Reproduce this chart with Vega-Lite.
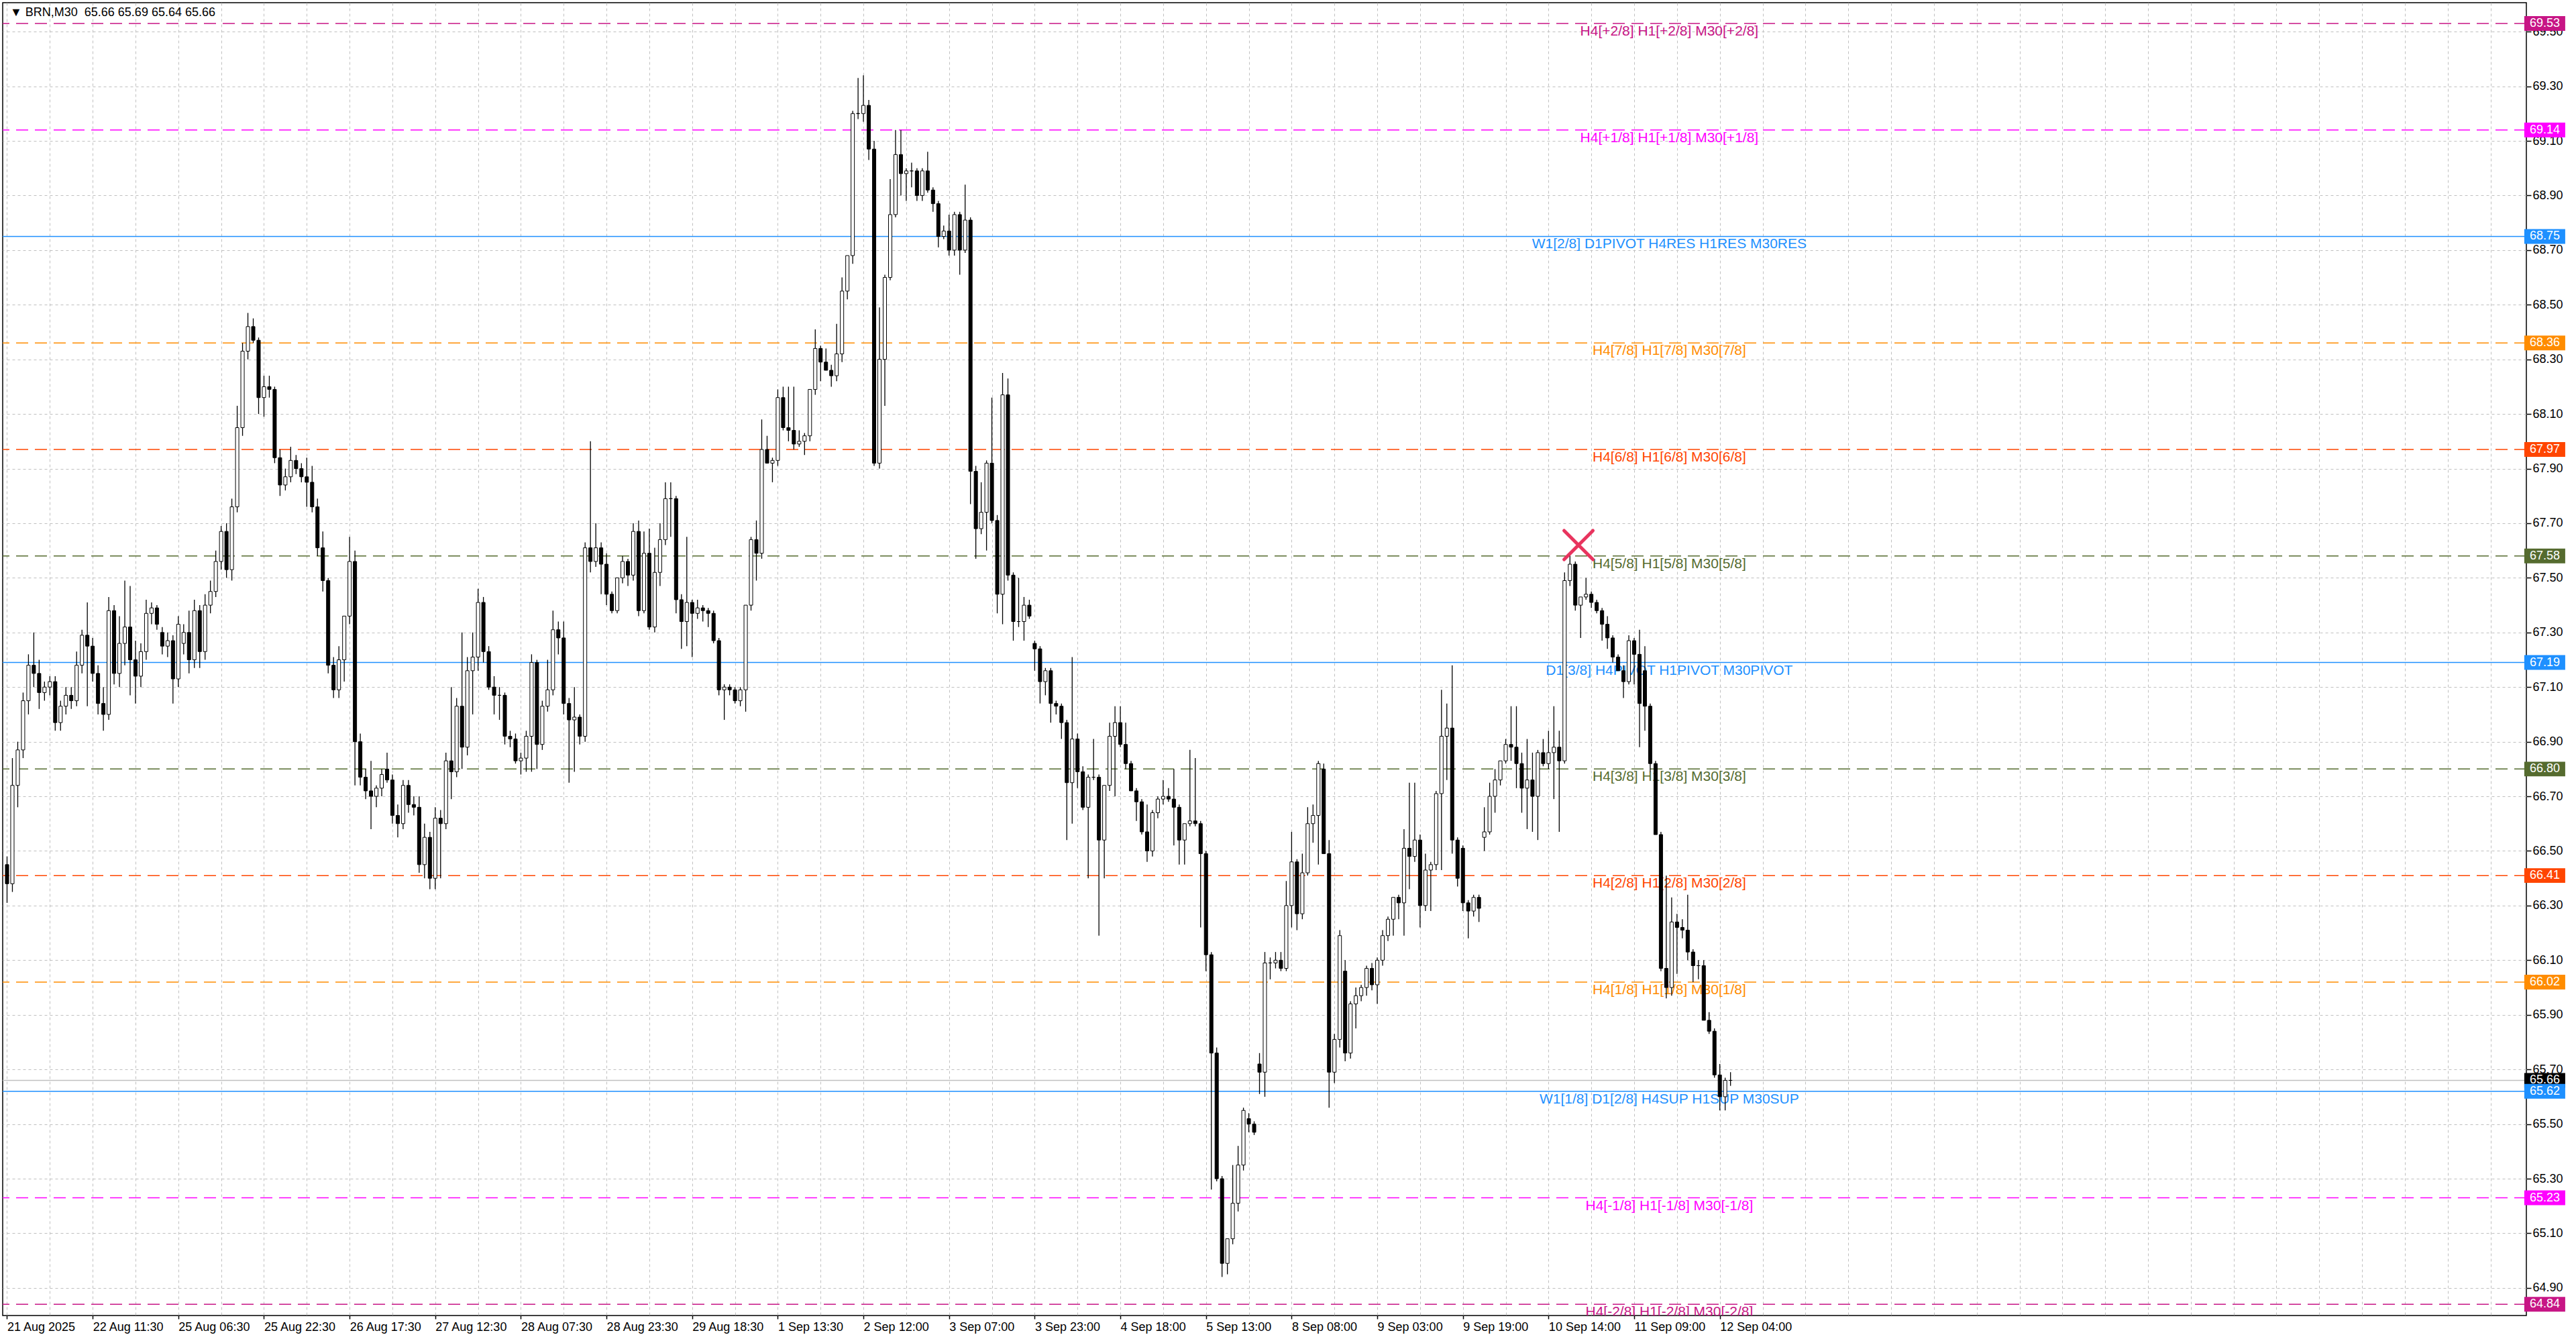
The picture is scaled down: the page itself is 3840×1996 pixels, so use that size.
{
"$schema": "https://vega.github.io/schema/vega-lite/v6.json",
"width": 3762, "height": 1957,
"autosize": {"type": "none"},
"padding": {"left": 4, "top": 4, "right": 74, "bottom": 35},
"background": "white",
"config": {"font": "Liberation Sans", "view": {"stroke": "black", "strokeWidth": 1.5},
 "axis": {"domain": false, "grid": true, "gridColor": "#c0c0c0", "gridDash": [4,4], "gridWidth": 1, "tickWidth": 1.5, "labelFont": "Liberation Sans", "labelFontSize": 18, "labelColor": "black", "labelOverlap": false, "labelFlush": false, "labelBound": false},
 "axisX": {"tickSize": 5, "labelAlign": "left", "labelBaseline": "top", "labelPadding": 3},
 "axisY": {"tickSize": 7, "labelPadding": 2, "labelAlign": "left", "labelBaseline": "middle", "tickColor": "black"}},
"datasets": {
"bars": [
{"i":0,"o":66.45,"h":66.48,"l":66.31,"c":66.38},{"i":1,"o":66.38,"h":66.84,"l":66.35,"c":66.74},{"i":2,"o":66.74,"h":66.90,"l":66.66,"c":66.87},{"i":3,"o":66.87,"h":67.08,"l":66.84,"c":67.05},{"i":4,"o":67.05,"h":67.22,"l":67.00,"c":67.18},{"i":5,"o":67.18,"h":67.30,"l":67.10,"c":67.15},{"i":6,"o":67.15,"h":67.20,"l":67.02,"c":67.08},{"i":7,"o":67.08,"h":67.12,"l":67.05,"c":67.10},{"i":8,"o":67.10,"h":67.14,"l":67.07,"c":67.12},{"i":9,"o":67.12,"h":67.14,"l":66.94,"c":66.97},
{"i":10,"o":66.97,"h":67.05,"l":66.94,"c":67.03},{"i":11,"o":67.03,"h":67.10,"l":67.00,"c":67.07},{"i":12,"o":67.07,"h":67.10,"l":67.02,"c":67.05},{"i":13,"o":67.05,"h":67.23,"l":67.03,"c":67.18},{"i":14,"o":67.18,"h":67.31,"l":67.15,"c":67.29},{"i":15,"o":67.29,"h":67.41,"l":67.03,"c":67.25},{"i":16,"o":67.25,"h":67.28,"l":67.12,"c":67.15},{"i":17,"o":67.15,"h":67.18,"l":67.00,"c":67.04},{"i":18,"o":67.04,"h":67.10,"l":66.94,"c":67.00},{"i":19,"o":67.00,"h":67.43,"l":66.98,"c":67.38},
{"i":20,"o":67.38,"h":67.40,"l":67.11,"c":67.15},{"i":21,"o":67.15,"h":67.36,"l":67.10,"c":67.26},{"i":22,"o":67.26,"h":67.49,"l":67.18,"c":67.32},{"i":23,"o":67.32,"h":67.47,"l":67.07,"c":67.20},{"i":24,"o":67.20,"h":67.27,"l":67.04,"c":67.14},{"i":25,"o":67.14,"h":67.26,"l":67.10,"c":67.23},{"i":26,"o":67.23,"h":67.42,"l":67.20,"c":67.37},{"i":27,"o":67.37,"h":67.41,"l":67.33,"c":67.39},{"i":28,"o":67.39,"h":67.40,"l":67.31,"c":67.33},{"i":29,"o":67.30,"h":67.32,"l":67.22,"c":67.25},
{"i":30,"o":67.25,"h":67.30,"l":67.21,"c":67.27},{"i":31,"o":67.27,"h":67.29,"l":67.04,"c":67.13},{"i":32,"o":67.13,"h":67.36,"l":67.10,"c":67.33},{"i":33,"o":67.26,"h":67.33,"l":67.22,"c":67.30},{"i":34,"o":67.30,"h":67.38,"l":67.15,"c":67.20},{"i":35,"o":67.20,"h":67.42,"l":67.17,"c":67.38},{"i":36,"o":67.38,"h":67.40,"l":67.17,"c":67.23},{"i":37,"o":67.23,"h":67.44,"l":67.20,"c":67.40},{"i":38,"o":67.40,"h":67.49,"l":67.37,"c":67.45},{"i":39,"o":67.45,"h":67.60,"l":67.43,"c":67.56},
{"i":40,"o":67.56,"h":67.69,"l":67.53,"c":67.67},{"i":41,"o":67.67,"h":67.70,"l":67.50,"c":67.53},{"i":42,"o":67.53,"h":67.79,"l":67.49,"c":67.76},{"i":43,"o":67.76,"h":68.13,"l":67.74,"c":68.05},{"i":44,"o":68.05,"h":68.36,"l":68.02,"c":68.33},{"i":45,"o":68.33,"h":68.47,"l":68.30,"c":68.42},{"i":46,"o":68.42,"h":68.45,"l":68.36,"c":68.37},{"i":47,"o":68.37,"h":68.38,"l":68.10,"c":68.16},{"i":48,"o":68.16,"h":68.24,"l":68.09,"c":68.20},{"i":49,"o":68.20,"h":68.24,"l":68.16,"c":68.19},
{"i":50,"o":68.19,"h":68.20,"l":67.92,"c":67.94},{"i":51,"o":67.94,"h":67.97,"l":67.80,"c":67.84},{"i":52,"o":67.84,"h":67.90,"l":67.82,"c":67.87},{"i":53,"o":67.87,"h":67.98,"l":67.85,"c":67.93},{"i":54,"o":67.93,"h":67.95,"l":67.88,"c":67.90},{"i":55,"o":67.90,"h":67.92,"l":67.85,"c":67.87},{"i":56,"o":67.87,"h":67.94,"l":67.76,"c":67.85},{"i":57,"o":67.85,"h":67.91,"l":67.74,"c":67.76},{"i":58,"o":67.76,"h":67.79,"l":67.58,"c":67.61},{"i":59,"o":67.61,"h":67.67,"l":67.45,"c":67.49},
{"i":60,"o":67.49,"h":67.50,"l":67.15,"c":67.18},{"i":61,"o":67.18,"h":67.21,"l":67.06,"c":67.09},{"i":62,"o":67.09,"h":67.25,"l":67.06,"c":67.20},{"i":63,"o":67.20,"h":67.36,"l":67.12,"c":67.36},{"i":64,"o":67.36,"h":67.65,"l":67.33,"c":67.56},{"i":65,"o":67.56,"h":67.60,"l":66.74,"c":66.90},{"i":66,"o":66.90,"h":66.93,"l":66.74,"c":66.77},{"i":67,"o":66.77,"h":66.80,"l":66.69,"c":66.72},{"i":68,"o":66.72,"h":66.83,"l":66.58,"c":66.70},{"i":69,"o":66.70,"h":66.74,"l":66.66,"c":66.73},
{"i":70,"o":66.73,"h":66.80,"l":66.70,"c":66.78},{"i":71,"o":66.80,"h":66.86,"l":66.75,"c":66.76},{"i":72,"o":66.76,"h":66.78,"l":66.60,"c":66.63},{"i":73,"o":66.63,"h":66.67,"l":66.55,"c":66.60},{"i":74,"o":66.60,"h":66.76,"l":66.58,"c":66.74},{"i":75,"o":66.74,"h":66.76,"l":66.64,"c":66.67},{"i":76,"o":66.67,"h":66.70,"l":66.63,"c":66.66},{"i":77,"o":66.66,"h":66.70,"l":66.42,"c":66.45},{"i":78,"o":66.45,"h":66.60,"l":66.40,"c":66.55},{"i":79,"o":66.55,"h":66.57,"l":66.36,"c":66.40},
{"i":80,"o":66.40,"h":66.66,"l":66.36,"c":66.62},{"i":81,"o":66.62,"h":66.65,"l":66.40,"c":66.60},{"i":82,"o":66.60,"h":66.86,"l":66.58,"c":66.83},{"i":83,"o":66.83,"h":67.10,"l":66.69,"c":66.79},{"i":84,"o":66.79,"h":67.06,"l":66.77,"c":67.03},{"i":85,"o":67.03,"h":67.30,"l":66.80,"c":66.88},{"i":86,"o":66.88,"h":67.21,"l":66.85,"c":67.16},{"i":87,"o":67.16,"h":67.30,"l":67.00,"c":67.21},{"i":88,"o":67.21,"h":67.46,"l":67.16,"c":67.41},{"i":89,"o":67.41,"h":67.43,"l":67.19,"c":67.23},
{"i":90,"o":67.23,"h":67.25,"l":67.09,"c":67.10},{"i":91,"o":67.10,"h":67.14,"l":67.00,"c":67.07},{"i":92,"o":67.07,"h":67.10,"l":66.98,"c":67.07},{"i":93,"o":67.07,"h":67.08,"l":66.89,"c":66.92},{"i":94,"o":66.92,"h":66.94,"l":66.88,"c":66.91},{"i":95,"o":66.91,"h":66.93,"l":66.82,"c":66.83},{"i":96,"o":66.83,"h":66.86,"l":66.78,"c":66.84},{"i":97,"o":66.84,"h":66.94,"l":66.79,"c":66.92},{"i":98,"o":66.92,"h":67.22,"l":66.79,"c":67.19},{"i":99,"o":67.19,"h":67.20,"l":66.80,"c":66.89},
{"i":100,"o":66.89,"h":67.05,"l":66.87,"c":67.03},{"i":101,"o":67.03,"h":67.20,"l":67.01,"c":67.09},{"i":102,"o":67.09,"h":67.38,"l":67.07,"c":67.31},{"i":103,"o":67.31,"h":67.34,"l":67.22,"c":67.28},{"i":104,"o":67.28,"h":67.34,"l":67.00,"c":67.04},{"i":105,"o":67.04,"h":67.06,"l":66.75,"c":66.98},{"i":106,"o":66.98,"h":67.10,"l":66.79,"c":66.99},{"i":107,"o":66.99,"h":67.00,"l":66.89,"c":66.92},{"i":108,"o":66.92,"h":67.63,"l":66.90,"c":67.61},{"i":109,"o":67.61,"h":68.00,"l":67.52,"c":67.56},
{"i":110,"o":67.56,"h":67.70,"l":67.54,"c":67.61},{"i":111,"o":67.61,"h":67.63,"l":67.44,"c":67.55},{"i":112,"o":67.55,"h":67.59,"l":67.40,"c":67.44},{"i":113,"o":67.44,"h":67.45,"l":67.37,"c":67.38},{"i":114,"o":67.38,"h":67.50,"l":67.37,"c":67.50},{"i":115,"o":67.50,"h":67.58,"l":67.48,"c":67.56},{"i":116,"o":67.56,"h":67.57,"l":67.47,"c":67.51},{"i":117,"o":67.51,"h":67.70,"l":67.49,"c":67.67},{"i":118,"o":67.67,"h":67.71,"l":67.36,"c":67.38},{"i":119,"o":67.38,"h":67.67,"l":67.37,"c":67.59},
{"i":120,"o":67.59,"h":67.68,"l":67.31,"c":67.32},{"i":121,"o":67.32,"h":67.61,"l":67.30,"c":67.52},{"i":122,"o":67.52,"h":67.70,"l":67.47,"c":67.64},{"i":123,"o":67.64,"h":67.85,"l":67.62,"c":67.79},{"i":124,"o":67.79,"h":67.85,"l":67.65,"c":67.79},{"i":125,"o":67.79,"h":67.80,"l":67.37,"c":67.42},{"i":126,"o":67.42,"h":67.44,"l":67.24,"c":67.34},{"i":127,"o":67.34,"h":67.65,"l":67.25,"c":67.41},{"i":128,"o":67.41,"h":67.42,"l":67.21,"c":67.37},{"i":129,"o":67.37,"h":67.42,"l":67.35,"c":67.39},
{"i":130,"o":67.39,"h":67.40,"l":67.34,"c":67.38},{"i":131,"o":67.38,"h":67.39,"l":67.32,"c":67.37},{"i":132,"o":67.37,"h":67.38,"l":67.26,"c":67.27},{"i":133,"o":67.27,"h":67.28,"l":67.07,"c":67.09},{"i":134,"o":67.09,"h":67.11,"l":66.98,"c":67.10},{"i":135,"o":67.10,"h":67.11,"l":67.07,"c":67.09},{"i":136,"o":67.09,"h":67.10,"l":67.04,"c":67.05},{"i":137,"o":67.05,"h":67.10,"l":67.03,"c":67.09},{"i":138,"o":67.09,"h":67.40,"l":67.01,"c":67.40},{"i":139,"o":67.40,"h":67.65,"l":67.38,"c":67.64},
{"i":140,"o":67.64,"h":67.71,"l":67.49,"c":67.59},{"i":141,"o":67.59,"h":68.08,"l":67.57,"c":67.97},{"i":142,"o":67.97,"h":68.02,"l":67.92,"c":67.92},{"i":143,"o":67.92,"h":67.94,"l":67.85,"c":67.93},{"i":144,"o":67.93,"h":68.19,"l":67.91,"c":68.16},{"i":145,"o":68.16,"h":68.20,"l":68.04,"c":68.05},{"i":146,"o":68.05,"h":68.20,"l":68.00,"c":68.04},{"i":147,"o":68.04,"h":68.20,"l":67.97,"c":67.99},{"i":148,"o":67.99,"h":68.04,"l":67.98,"c":68.00},{"i":149,"o":68.00,"h":68.03,"l":67.95,"c":68.02},
{"i":150,"o":68.02,"h":68.19,"l":68.00,"c":68.19},{"i":151,"o":68.19,"h":68.41,"l":68.17,"c":68.34},{"i":152,"o":68.34,"h":68.35,"l":68.22,"c":68.29},{"i":153,"o":68.29,"h":68.34,"l":68.26,"c":68.26},{"i":154,"o":68.26,"h":68.28,"l":68.20,"c":68.24},{"i":155,"o":68.24,"h":68.43,"l":68.22,"c":68.32},{"i":156,"o":68.32,"h":68.60,"l":68.29,"c":68.55},{"i":157,"o":68.55,"h":68.68,"l":68.52,"c":68.68},{"i":158,"o":68.68,"h":69.21,"l":68.65,"c":69.20},{"i":159,"o":69.20,"h":69.33,"l":69.18,"c":69.20},
{"i":160,"o":69.20,"h":69.34,"l":69.17,"c":69.23},{"i":161,"o":69.23,"h":69.25,"l":69.03,"c":69.07},{"i":162,"o":69.07,"h":69.10,"l":67.91,"c":67.92},{"i":163,"o":67.92,"h":68.49,"l":67.90,"c":68.30},{"i":164,"o":68.30,"h":68.61,"l":68.13,"c":68.60},{"i":165,"o":68.60,"h":68.96,"l":68.59,"c":68.83},{"i":166,"o":68.83,"h":69.14,"l":68.82,"c":69.05},{"i":167,"o":69.05,"h":69.14,"l":68.90,"c":68.98},{"i":168,"o":68.98,"h":69.00,"l":68.88,"c":68.99},{"i":169,"o":68.99,"h":69.02,"l":68.93,"c":68.99},
{"i":170,"o":68.99,"h":69.00,"l":68.88,"c":68.90},{"i":171,"o":68.90,"h":69.00,"l":68.88,"c":68.99},{"i":172,"o":68.99,"h":69.06,"l":68.91,"c":68.92},{"i":173,"o":68.92,"h":68.93,"l":68.84,"c":68.87},{"i":174,"o":68.87,"h":68.88,"l":68.71,"c":68.75},{"i":175,"o":68.75,"h":68.79,"l":68.74,"c":68.77},{"i":176,"o":68.77,"h":68.83,"l":68.68,"c":68.70},{"i":177,"o":68.70,"h":68.84,"l":68.68,"c":68.83},{"i":178,"o":68.83,"h":68.84,"l":68.61,"c":68.70},{"i":179,"o":68.70,"h":68.94,"l":68.69,"c":68.81},
{"i":180,"o":68.81,"h":68.82,"l":67.77,"c":67.89},{"i":181,"o":67.89,"h":67.91,"l":67.57,"c":67.68},{"i":182,"o":67.68,"h":67.85,"l":67.66,"c":67.74},{"i":183,"o":67.74,"h":67.93,"l":67.60,"c":67.92},{"i":184,"o":67.92,"h":68.16,"l":67.70,"c":67.71},{"i":185,"o":67.71,"h":67.73,"l":67.37,"c":67.44},{"i":186,"o":67.44,"h":68.25,"l":67.33,"c":68.17},{"i":187,"o":68.17,"h":68.23,"l":67.49,"c":67.51},{"i":188,"o":67.51,"h":67.52,"l":67.27,"c":67.34},{"i":189,"o":67.34,"h":67.50,"l":67.32,"c":67.34},
{"i":190,"o":67.34,"h":67.43,"l":67.27,"c":67.40},{"i":191,"o":67.40,"h":67.42,"l":67.35,"c":67.36},{"i":192,"o":67.26,"h":67.27,"l":67.16,"c":67.24},{"i":193,"o":67.24,"h":67.25,"l":67.04,"c":67.12},{"i":194,"o":67.12,"h":67.17,"l":67.07,"c":67.16},{"i":195,"o":67.16,"h":67.17,"l":66.97,"c":67.04},{"i":196,"o":67.04,"h":67.05,"l":67.00,"c":67.03},{"i":197,"o":67.03,"h":67.04,"l":66.91,"c":66.97},{"i":198,"o":66.97,"h":66.98,"l":66.54,"c":66.75},{"i":199,"o":66.75,"h":67.21,"l":66.60,"c":66.91},
{"i":200,"o":66.91,"h":66.93,"l":66.73,"c":66.79},{"i":201,"o":66.79,"h":66.81,"l":66.65,"c":66.66},{"i":202,"o":66.66,"h":66.78,"l":66.40,"c":66.77},{"i":203,"o":66.77,"h":66.91,"l":66.76,"c":66.77},{"i":204,"o":66.77,"h":66.78,"l":66.19,"c":66.54},{"i":205,"o":66.54,"h":66.74,"l":66.40,"c":66.74},{"i":206,"o":66.74,"h":66.97,"l":66.72,"c":66.92},{"i":207,"o":66.92,"h":67.03,"l":66.70,"c":66.97},{"i":208,"o":66.97,"h":67.03,"l":66.88,"c":66.89},{"i":209,"o":66.89,"h":66.97,"l":66.80,"c":66.82},
{"i":210,"o":66.82,"h":66.83,"l":66.72,"c":66.72},{"i":211,"o":66.72,"h":66.73,"l":66.61,"c":66.68},{"i":212,"o":66.68,"h":66.69,"l":66.56,"c":66.57},{"i":213,"o":66.57,"h":66.67,"l":66.46,"c":66.50},{"i":214,"o":66.50,"h":66.65,"l":66.48,"c":66.64},{"i":215,"o":66.64,"h":66.70,"l":66.62,"c":66.69},{"i":216,"o":66.69,"h":66.76,"l":66.67,"c":66.70},{"i":217,"o":66.70,"h":66.73,"l":66.68,"c":66.69},{"i":218,"o":66.69,"h":66.80,"l":66.52,"c":66.66},{"i":219,"o":66.66,"h":66.67,"l":66.45,"c":66.54},
{"i":220,"o":66.54,"h":66.60,"l":66.45,"c":66.60},{"i":221,"o":66.60,"h":66.87,"l":66.59,"c":66.61},{"i":222,"o":66.61,"h":66.84,"l":66.59,"c":66.60},{"i":223,"o":66.60,"h":66.61,"l":66.22,"c":66.49},{"i":224,"o":66.49,"h":66.50,"l":66.06,"c":66.12},{"i":225,"o":66.12,"h":66.13,"l":65.26,"c":65.76},{"i":226,"o":65.76,"h":65.78,"l":65.29,"c":65.30},{"i":227,"o":65.30,"h":65.31,"l":64.94,"c":64.99},{"i":228,"o":64.99,"h":65.08,"l":64.95,"c":65.08},{"i":229,"o":65.08,"h":65.35,"l":65.06,"c":65.21},
{"i":230,"o":65.21,"h":65.42,"l":65.18,"c":65.35},{"i":231,"o":65.35,"h":65.56,"l":65.33,"c":65.55},{"i":232,"o":65.52,"h":65.54,"l":65.47,"c":65.50},{"i":233,"o":65.50,"h":65.51,"l":65.46,"c":65.47},{"i":234,"o":65.72,"h":65.76,"l":65.61,"c":65.69},{"i":235,"o":65.69,"h":66.13,"l":65.60,"c":66.09},{"i":236,"o":66.09,"h":66.11,"l":66.03,"c":66.09},{"i":237,"o":66.09,"h":66.13,"l":66.07,"c":66.10},{"i":238,"o":66.10,"h":66.13,"l":66.06,"c":66.07},{"i":239,"o":66.07,"h":66.39,"l":66.06,"c":66.30},
{"i":240,"o":66.30,"h":66.57,"l":66.22,"c":66.46},{"i":241,"o":66.46,"h":66.47,"l":66.21,"c":66.27},{"i":242,"o":66.27,"h":66.49,"l":66.25,"c":66.42},{"i":243,"o":66.42,"h":66.66,"l":66.41,"c":66.60},{"i":244,"o":66.60,"h":66.67,"l":66.53,"c":66.63},{"i":245,"o":66.63,"h":66.83,"l":66.45,"c":66.82},{"i":246,"o":66.80,"h":66.82,"l":66.49,"c":66.49},{"i":247,"o":66.49,"h":66.54,"l":65.56,"c":65.69},{"i":248,"o":65.69,"h":65.83,"l":65.65,"c":65.81},{"i":249,"o":65.81,"h":66.21,"l":65.78,"c":66.19},
{"i":250,"o":66.06,"h":66.10,"l":65.73,"c":65.76},{"i":251,"o":65.76,"h":65.95,"l":65.74,"c":65.94},{"i":252,"o":65.94,"h":66.00,"l":65.85,"c":65.97},{"i":253,"o":65.97,"h":66.01,"l":65.95,"c":66.00},{"i":254,"o":66.00,"h":66.08,"l":65.97,"c":66.07},{"i":255,"o":66.07,"h":66.09,"l":65.99,"c":66.01},{"i":256,"o":66.01,"h":66.11,"l":65.94,"c":66.10},{"i":257,"o":66.10,"h":66.21,"l":66.08,"c":66.19},{"i":258,"o":66.19,"h":66.26,"l":66.17,"c":66.25},{"i":259,"o":66.25,"h":66.33,"l":66.19,"c":66.33},
{"i":260,"o":66.33,"h":66.34,"l":66.25,"c":66.31},{"i":261,"o":66.31,"h":66.58,"l":66.19,"c":66.51},{"i":262,"o":66.51,"h":66.75,"l":66.36,"c":66.48},{"i":263,"o":66.48,"h":66.75,"l":66.46,"c":66.54},{"i":264,"o":66.54,"h":66.56,"l":66.22,"c":66.30},{"i":265,"o":66.30,"h":66.49,"l":66.28,"c":66.43},{"i":266,"o":66.43,"h":66.46,"l":66.28,"c":66.45},{"i":267,"o":66.45,"h":66.72,"l":66.43,"c":66.71},{"i":268,"o":66.71,"h":67.09,"l":66.43,"c":66.92},{"i":269,"o":66.92,"h":67.04,"l":66.76,"c":66.95},
{"i":270,"o":66.95,"h":67.18,"l":66.49,"c":66.54},{"i":271,"o":66.54,"h":66.55,"l":66.37,"c":66.40},{"i":272,"o":66.51,"h":66.52,"l":66.28,"c":66.31},{"i":273,"o":66.31,"h":66.32,"l":66.18,"c":66.28},{"i":274,"o":66.28,"h":66.34,"l":66.26,"c":66.33},{"i":275,"o":66.33,"h":66.34,"l":66.24,"c":66.29},{"i":276,"o":66.55,"h":66.66,"l":66.50,"c":66.57},{"i":277,"o":66.57,"h":66.75,"l":66.56,"c":66.70},{"i":278,"o":66.70,"h":66.80,"l":66.64,"c":66.76},{"i":279,"o":66.76,"h":66.83,"l":66.74,"c":66.83},
{"i":280,"o":66.83,"h":66.91,"l":66.82,"c":66.89},{"i":281,"o":66.89,"h":67.03,"l":66.83,"c":66.88},{"i":282,"o":66.88,"h":67.03,"l":66.73,"c":66.82},{"i":283,"o":66.82,"h":66.86,"l":66.64,"c":66.73},{"i":284,"o":66.73,"h":66.91,"l":66.58,"c":66.76},{"i":285,"o":66.76,"h":66.86,"l":66.57,"c":66.70},{"i":286,"o":66.70,"h":66.87,"l":66.54,"c":66.86},{"i":287,"o":66.86,"h":66.91,"l":66.81,"c":66.82},{"i":288,"o":66.82,"h":66.94,"l":66.80,"c":66.86},{"i":289,"o":66.86,"h":67.03,"l":66.69,"c":66.88},
{"i":290,"o":66.88,"h":66.94,"l":66.57,"c":66.83},{"i":291,"o":66.83,"h":67.52,"l":66.82,"c":67.49},{"i":292,"o":67.49,"h":67.59,"l":67.47,"c":67.55},{"i":293,"o":67.55,"h":67.56,"l":67.38,"c":67.40},{"i":294,"o":67.40,"h":67.43,"l":67.28,"c":67.43},{"i":295,"o":67.43,"h":67.50,"l":67.42,"c":67.44},{"i":296,"o":67.44,"h":67.45,"l":67.39,"c":67.41},{"i":297,"o":67.41,"h":67.42,"l":67.37,"c":67.38},{"i":298,"o":67.38,"h":67.39,"l":67.27,"c":67.33},{"i":299,"o":67.33,"h":67.36,"l":67.24,"c":67.28},
{"i":300,"o":67.28,"h":67.29,"l":67.19,"c":67.21},{"i":301,"o":67.21,"h":67.22,"l":67.16,"c":67.16},{"i":302,"o":67.16,"h":67.18,"l":67.06,"c":67.12},{"i":303,"o":67.12,"h":67.29,"l":67.11,"c":67.27},{"i":304,"o":67.27,"h":67.28,"l":67.11,"c":67.22},{"i":305,"o":67.22,"h":67.31,"l":66.88,"c":67.04},{"i":306,"o":67.16,"h":67.25,"l":66.94,"c":67.03},{"i":307,"o":67.03,"h":67.04,"l":66.79,"c":66.82},{"i":308,"o":66.82,"h":66.83,"l":66.56,"c":66.56},{"i":309,"o":66.56,"h":66.57,"l":66.06,"c":66.07},
{"i":310,"o":66.07,"h":66.41,"l":65.96,"c":66.00},{"i":311,"o":66.00,"h":66.33,"l":65.97,"c":66.24},{"i":312,"o":66.24,"h":66.27,"l":66.05,"c":66.22},{"i":313,"o":66.22,"h":66.25,"l":66.18,"c":66.21},{"i":314,"o":66.21,"h":66.34,"l":66.10,"c":66.13},{"i":315,"o":66.13,"h":66.14,"l":66.02,"c":66.08},{"i":316,"o":66.08,"h":66.10,"l":66.03,"c":66.08},{"i":317,"o":66.08,"h":66.10,"l":65.88,"c":65.88},{"i":318,"o":65.88,"h":65.91,"l":65.83,"c":65.84},{"i":319,"o":65.84,"h":65.85,"l":65.67,"c":65.68},
{"i":320,"o":65.68,"h":65.72,"l":65.55,"c":65.60},{"i":321,"o":65.60,"h":65.67,"l":65.55,"c":65.66},{"i":322,"o":65.66,"h":65.69,"l":65.64,"c":65.66}
],
"levels": [
{"p":69.53,"grp":"+2/8","kind":"murrey","label":"H4[+2/8] H1[+2/8] M30[+2/8]"},
{"p":69.14,"grp":"+1/8","kind":"murrey","label":"H4[+1/8] H1[+1/8] M30[+1/8]"},
{"p":68.75,"grp":"pivot","kind":"pivot","label":"W1[2/8] D1PIVOT H4RES H1RES M30RES"},
{"p":68.36,"grp":"7/8","kind":"murrey","label":"H4[7/8] H1[7/8] M30[7/8]"},
{"p":67.97,"grp":"6/8","kind":"murrey","label":"H4[6/8] H1[6/8] M30[6/8]"},
{"p":67.58,"grp":"5/8","kind":"murrey","label":"H4[5/8] H1[5/8] M30[5/8]"},
{"p":67.19,"grp":"pivot","kind":"pivot","label":"D1[3/8] H4PIVOT H1PIVOT M30PIVOT"},
{"p":66.80,"grp":"3/8","kind":"murrey","label":"H4[3/8] H1[3/8] M30[3/8]"},
{"p":66.41,"grp":"2/8","kind":"murrey","label":"H4[2/8] H1[2/8] M30[2/8]"},
{"p":66.02,"grp":"1/8","kind":"murrey","label":"H4[1/8] H1[1/8] M30[1/8]"},
{"p":65.62,"grp":"pivot","kind":"pivot","label":"W1[1/8] D1[2/8] H4SUP H1SUP M30SUP"},
{"p":65.23,"grp":"-1/8","kind":"murrey","label":"H4[-1/8] H1[-1/8] M30[-1/8]"},
{"p":64.84,"grp":"-2/8","kind":"murrey","label":"H4[-2/8] H1[-2/8] M30[-2/8]"}
],
"last": [{"p":65.66}],
"marker": [{"i":293.6,"p":67.62}]
},
"layer": [
{"data":{"name":"bars"},"mark":{"type":"rule","color":"black","strokeWidth":1.3,"opacity":0},
 "encoding":{
  "x":{"field":"i","type":"quantitative","scale":{"type":"linear","domain":[-0.1875,470.0625],"nice":false,"zero":false},
   "axis":{"orient":"bottom","title":null,
    "values":[0,8,16,24,32,40,48,56,64,72,80,88,96,104,112,120,128,136,144,152,160,168,176,184,192,200,208,216,224,232,240,248,256,264,272,280,288,296,304,312,320,328,336,344,352,360,368,376,384,392,400,408,416,424,432,440,448,456,464],
    "tickColor":{"condition":{"test":"datum.value % 16 == 0 && datum.value <= 320","value":"black"},"value":"rgba(0,0,0,0)"},
    "labelExpr":"datum.value % 16 == 0 && datum.value <= 320 ? ['21 Aug 2025','22 Aug 11:30','25 Aug 06:30','25 Aug 22:30','26 Aug 17:30','27 Aug 12:30','28 Aug 07:30','28 Aug 23:30','29 Aug 18:30','1 Sep 13:30','2 Sep 12:00','3 Sep 07:00','3 Sep 23:00','4 Sep 18:00','5 Sep 13:00','8 Sep 08:00','9 Sep 03:00','9 Sep 19:00','10 Sep 14:00','11 Sep 09:00','12 Sep 04:00'][datum.value / 16] : ''"}},
  "y":{"field":"l","type":"quantitative","scale":{"type":"linear","domain":[64.799,69.606],"nice":false,"zero":false},
   "axis":{"orient":"right","title":null,"format":".2f",
    "values":[64.9,65.1,65.3,65.5,65.7,65.9,66.1,66.3,66.5,66.7,66.9,67.1,67.3,67.5,67.7,67.9,68.1,68.3,68.5,68.7,68.9,69.1,69.3,69.5]}},
  "y2":{"field":"h"}}},
{"data":{"name":"levels"},"mark":{"type":"rule","strokeWidth":1.5},
 "encoding":{
  "y":{"field":"p","type":"quantitative","scale":{"type":"linear","domain":[64.799,69.606],"nice":false,"zero":false},
   "axis":{"orient":"right","title":null,"format":".2f",
    "values":[64.9,65.1,65.3,65.5,65.7,65.9,66.1,66.3,66.5,66.7,66.9,67.1,67.3,67.5,67.7,67.9,68.1,68.3,68.5,68.7,68.9,69.1,69.3,69.5]}},
  "color":{"field":"grp","type":"nominal","scale":{"domain":["+2/8","+1/8","pivot","7/8","6/8","5/8","3/8","2/8","1/8","-1/8","-2/8"],"range":["#C71585","#FF00FF","#1E90FF","#FF8C00","#FF4500","#556B2F","#556B2F","#FF4500","#FF8C00","#FF00FF","#C71585"]},"legend":null},
  "strokeDash":{"field":"kind","type":"nominal","scale":{"domain":["murrey","pivot"],"range":[[18,10],[1,0]]},"legend":null}}},
{"data":{"name":"last"},"mark":{"type":"rule","color":"#c0c0c0","strokeWidth":1.5},
 "encoding":{"y":{"field":"p","type":"quantitative","scale":{"type":"linear","domain":[64.799,69.606],"nice":false,"zero":false},
   "axis":{"orient":"right","title":null,"format":".2f",
    "values":[64.9,65.1,65.3,65.5,65.7,65.9,66.1,66.3,66.5,66.7,66.9,67.1,67.3,67.5,67.7,67.9,68.1,68.3,68.5,68.7,68.9,69.1,69.3,69.5]}}}},
{"data":{"name":"levels"},"mark":{"type":"text","align":"center","baseline":"top","dy":1,"fontSize":21,"font":"Liberation Sans","clip":true},
 "encoding":{
  "x":{"datum":310.56,"type":"quantitative","scale":{"type":"linear","domain":[-0.1875,470.0625],"nice":false,"zero":false},
   "axis":{"orient":"bottom","title":null,
    "values":[0,8,16,24,32,40,48,56,64,72,80,88,96,104,112,120,128,136,144,152,160,168,176,184,192,200,208,216,224,232,240,248,256,264,272,280,288,296,304,312,320,328,336,344,352,360,368,376,384,392,400,408,416,424,432,440,448,456,464],
    "tickColor":{"condition":{"test":"datum.value % 16 == 0 && datum.value <= 320","value":"black"},"value":"rgba(0,0,0,0)"},
    "labelExpr":"datum.value % 16 == 0 && datum.value <= 320 ? ['21 Aug 2025','22 Aug 11:30','25 Aug 06:30','25 Aug 22:30','26 Aug 17:30','27 Aug 12:30','28 Aug 07:30','28 Aug 23:30','29 Aug 18:30','1 Sep 13:30','2 Sep 12:00','3 Sep 07:00','3 Sep 23:00','4 Sep 18:00','5 Sep 13:00','8 Sep 08:00','9 Sep 03:00','9 Sep 19:00','10 Sep 14:00','11 Sep 09:00','12 Sep 04:00'][datum.value / 16] : ''"}},
  "y":{"field":"p","type":"quantitative","scale":{"type":"linear","domain":[64.799,69.606],"nice":false,"zero":false},
   "axis":{"orient":"right","title":null,"format":".2f",
    "values":[64.9,65.1,65.3,65.5,65.7,65.9,66.1,66.3,66.5,66.7,66.9,67.1,67.3,67.5,67.7,67.9,68.1,68.3,68.5,68.7,68.9,69.1,69.3,69.5]}},
  "text":{"field":"label"},
  "color":{"field":"grp","type":"nominal","scale":{"domain":["+2/8","+1/8","pivot","7/8","6/8","5/8","3/8","2/8","1/8","-1/8","-2/8"],"range":["#C71585","#FF00FF","#1E90FF","#FF8C00","#FF4500","#556B2F","#556B2F","#FF4500","#FF8C00","#FF00FF","#C71585"]},"legend":null}}},
{"data":{"name":"bars"},"mark":{"type":"rule","color":"black","strokeWidth":1.3},
 "encoding":{
  "x":{"field":"i","type":"quantitative","scale":{"type":"linear","domain":[-0.1875,470.0625],"nice":false,"zero":false},
   "axis":{"orient":"bottom","title":null,
    "values":[0,8,16,24,32,40,48,56,64,72,80,88,96,104,112,120,128,136,144,152,160,168,176,184,192,200,208,216,224,232,240,248,256,264,272,280,288,296,304,312,320,328,336,344,352,360,368,376,384,392,400,408,416,424,432,440,448,456,464],
    "tickColor":{"condition":{"test":"datum.value % 16 == 0 && datum.value <= 320","value":"black"},"value":"rgba(0,0,0,0)"},
    "labelExpr":"datum.value % 16 == 0 && datum.value <= 320 ? ['21 Aug 2025','22 Aug 11:30','25 Aug 06:30','25 Aug 22:30','26 Aug 17:30','27 Aug 12:30','28 Aug 07:30','28 Aug 23:30','29 Aug 18:30','1 Sep 13:30','2 Sep 12:00','3 Sep 07:00','3 Sep 23:00','4 Sep 18:00','5 Sep 13:00','8 Sep 08:00','9 Sep 03:00','9 Sep 19:00','10 Sep 14:00','11 Sep 09:00','12 Sep 04:00'][datum.value / 16] : ''"}},
  "y":{"field":"l","type":"quantitative","scale":{"type":"linear","domain":[64.799,69.606],"nice":false,"zero":false},
   "axis":{"orient":"right","title":null,"format":".2f",
    "values":[64.9,65.1,65.3,65.5,65.7,65.9,66.1,66.3,66.5,66.7,66.9,67.1,67.3,67.5,67.7,67.9,68.1,68.3,68.5,68.7,68.9,69.1,69.3,69.5]}},
  "y2":{"field":"h"}}},
{"data":{"name":"bars"},"mark":{"type":"bar","width":5,"stroke":"black","strokeWidth":1},
 "encoding":{
  "x":{"field":"i","type":"quantitative","scale":{"type":"linear","domain":[-0.1875,470.0625],"nice":false,"zero":false},
   "axis":{"orient":"bottom","title":null,
    "values":[0,8,16,24,32,40,48,56,64,72,80,88,96,104,112,120,128,136,144,152,160,168,176,184,192,200,208,216,224,232,240,248,256,264,272,280,288,296,304,312,320,328,336,344,352,360,368,376,384,392,400,408,416,424,432,440,448,456,464],
    "tickColor":{"condition":{"test":"datum.value % 16 == 0 && datum.value <= 320","value":"black"},"value":"rgba(0,0,0,0)"},
    "labelExpr":"datum.value % 16 == 0 && datum.value <= 320 ? ['21 Aug 2025','22 Aug 11:30','25 Aug 06:30','25 Aug 22:30','26 Aug 17:30','27 Aug 12:30','28 Aug 07:30','28 Aug 23:30','29 Aug 18:30','1 Sep 13:30','2 Sep 12:00','3 Sep 07:00','3 Sep 23:00','4 Sep 18:00','5 Sep 13:00','8 Sep 08:00','9 Sep 03:00','9 Sep 19:00','10 Sep 14:00','11 Sep 09:00','12 Sep 04:00'][datum.value / 16] : ''"}},
  "y":{"field":"o","type":"quantitative","scale":{"type":"linear","domain":[64.799,69.606],"nice":false,"zero":false},
   "axis":{"orient":"right","title":null,"format":".2f",
    "values":[64.9,65.1,65.3,65.5,65.7,65.9,66.1,66.3,66.5,66.7,66.9,67.1,67.3,67.5,67.7,67.9,68.1,68.3,68.5,68.7,68.9,69.1,69.3,69.5]}},
  "y2":{"field":"c"},
  "fill":{"condition":{"test":"datum.c >= datum.o","value":"white"},"value":"black"}}},
{"data":{"name":"marker"},"mark":{"type":"point","shape":"M-1,-1L1,1M-1,1L1,-1","size":1850,"filled":false,"stroke":"#E8345E","strokeWidth":5,"strokeCap":"round","opacity":1},
 "encoding":{
  "x":{"field":"i","type":"quantitative","scale":{"type":"linear","domain":[-0.1875,470.0625],"nice":false,"zero":false},
   "axis":{"orient":"bottom","title":null,
    "values":[0,8,16,24,32,40,48,56,64,72,80,88,96,104,112,120,128,136,144,152,160,168,176,184,192,200,208,216,224,232,240,248,256,264,272,280,288,296,304,312,320,328,336,344,352,360,368,376,384,392,400,408,416,424,432,440,448,456,464],
    "tickColor":{"condition":{"test":"datum.value % 16 == 0 && datum.value <= 320","value":"black"},"value":"rgba(0,0,0,0)"},
    "labelExpr":"datum.value % 16 == 0 && datum.value <= 320 ? ['21 Aug 2025','22 Aug 11:30','25 Aug 06:30','25 Aug 22:30','26 Aug 17:30','27 Aug 12:30','28 Aug 07:30','28 Aug 23:30','29 Aug 18:30','1 Sep 13:30','2 Sep 12:00','3 Sep 07:00','3 Sep 23:00','4 Sep 18:00','5 Sep 13:00','8 Sep 08:00','9 Sep 03:00','9 Sep 19:00','10 Sep 14:00','11 Sep 09:00','12 Sep 04:00'][datum.value / 16] : ''"}},
  "y":{"field":"p","type":"quantitative","scale":{"type":"linear","domain":[64.799,69.606],"nice":false,"zero":false},
   "axis":{"orient":"right","title":null,"format":".2f",
    "values":[64.9,65.1,65.3,65.5,65.7,65.9,66.1,66.3,66.5,66.7,66.9,67.1,67.3,67.5,67.7,67.9,68.1,68.3,68.5,68.7,68.9,69.1,69.3,69.5]}}}},
{"data":{"name":"last"},"mark":{"type":"point","shape":"M-1,-0.36L1,-0.36L1,0.36L-1,0.36Z","size":3721,"filled":true,"color":"black","opacity":1},
 "encoding":{
  "x":{"datum":474.125,"type":"quantitative","scale":{"type":"linear","domain":[-0.1875,470.0625],"nice":false,"zero":false},
   "axis":{"orient":"bottom","title":null,
    "values":[0,8,16,24,32,40,48,56,64,72,80,88,96,104,112,120,128,136,144,152,160,168,176,184,192,200,208,216,224,232,240,248,256,264,272,280,288,296,304,312,320,328,336,344,352,360,368,376,384,392,400,408,416,424,432,440,448,456,464],
    "tickColor":{"condition":{"test":"datum.value % 16 == 0 && datum.value <= 320","value":"black"},"value":"rgba(0,0,0,0)"},
    "labelExpr":"datum.value % 16 == 0 && datum.value <= 320 ? ['21 Aug 2025','22 Aug 11:30','25 Aug 06:30','25 Aug 22:30','26 Aug 17:30','27 Aug 12:30','28 Aug 07:30','28 Aug 23:30','29 Aug 18:30','1 Sep 13:30','2 Sep 12:00','3 Sep 07:00','3 Sep 23:00','4 Sep 18:00','5 Sep 13:00','8 Sep 08:00','9 Sep 03:00','9 Sep 19:00','10 Sep 14:00','11 Sep 09:00','12 Sep 04:00'][datum.value / 16] : ''"}},
  "y":{"field":"p","type":"quantitative","scale":{"type":"linear","domain":[64.799,69.606],"nice":false,"zero":false},
   "axis":{"orient":"right","title":null,"format":".2f",
    "values":[64.9,65.1,65.3,65.5,65.7,65.9,66.1,66.3,66.5,66.7,66.9,67.1,67.3,67.5,67.7,67.9,68.1,68.3,68.5,68.7,68.9,69.1,69.3,69.5]}}}},
{"data":{"name":"last"},"mark":{"type":"text","align":"center","baseline":"middle","fontSize":18,"font":"Liberation Sans","color":"white"},
 "encoding":{
  "x":{"datum":474.125,"type":"quantitative","scale":{"type":"linear","domain":[-0.1875,470.0625],"nice":false,"zero":false},
   "axis":{"orient":"bottom","title":null,
    "values":[0,8,16,24,32,40,48,56,64,72,80,88,96,104,112,120,128,136,144,152,160,168,176,184,192,200,208,216,224,232,240,248,256,264,272,280,288,296,304,312,320,328,336,344,352,360,368,376,384,392,400,408,416,424,432,440,448,456,464],
    "tickColor":{"condition":{"test":"datum.value % 16 == 0 && datum.value <= 320","value":"black"},"value":"rgba(0,0,0,0)"},
    "labelExpr":"datum.value % 16 == 0 && datum.value <= 320 ? ['21 Aug 2025','22 Aug 11:30','25 Aug 06:30','25 Aug 22:30','26 Aug 17:30','27 Aug 12:30','28 Aug 07:30','28 Aug 23:30','29 Aug 18:30','1 Sep 13:30','2 Sep 12:00','3 Sep 07:00','3 Sep 23:00','4 Sep 18:00','5 Sep 13:00','8 Sep 08:00','9 Sep 03:00','9 Sep 19:00','10 Sep 14:00','11 Sep 09:00','12 Sep 04:00'][datum.value / 16] : ''"}},
  "y":{"field":"p","type":"quantitative","scale":{"type":"linear","domain":[64.799,69.606],"nice":false,"zero":false},
   "axis":{"orient":"right","title":null,"format":".2f",
    "values":[64.9,65.1,65.3,65.5,65.7,65.9,66.1,66.3,66.5,66.7,66.9,67.1,67.3,67.5,67.7,67.9,68.1,68.3,68.5,68.7,68.9,69.1,69.3,69.5]}},
  "text":{"field":"p","type":"quantitative","format":".2f"}}},
{"data":{"name":"levels"},"mark":{"type":"point","shape":"M-1,-0.36L1,-0.36L1,0.36L-1,0.36Z","size":3721,"filled":true,"opacity":1},
 "encoding":{
  "x":{"datum":474.125,"type":"quantitative","scale":{"type":"linear","domain":[-0.1875,470.0625],"nice":false,"zero":false},
   "axis":{"orient":"bottom","title":null,
    "values":[0,8,16,24,32,40,48,56,64,72,80,88,96,104,112,120,128,136,144,152,160,168,176,184,192,200,208,216,224,232,240,248,256,264,272,280,288,296,304,312,320,328,336,344,352,360,368,376,384,392,400,408,416,424,432,440,448,456,464],
    "tickColor":{"condition":{"test":"datum.value % 16 == 0 && datum.value <= 320","value":"black"},"value":"rgba(0,0,0,0)"},
    "labelExpr":"datum.value % 16 == 0 && datum.value <= 320 ? ['21 Aug 2025','22 Aug 11:30','25 Aug 06:30','25 Aug 22:30','26 Aug 17:30','27 Aug 12:30','28 Aug 07:30','28 Aug 23:30','29 Aug 18:30','1 Sep 13:30','2 Sep 12:00','3 Sep 07:00','3 Sep 23:00','4 Sep 18:00','5 Sep 13:00','8 Sep 08:00','9 Sep 03:00','9 Sep 19:00','10 Sep 14:00','11 Sep 09:00','12 Sep 04:00'][datum.value / 16] : ''"}},
  "y":{"field":"p","type":"quantitative","scale":{"type":"linear","domain":[64.799,69.606],"nice":false,"zero":false},
   "axis":{"orient":"right","title":null,"format":".2f",
    "values":[64.9,65.1,65.3,65.5,65.7,65.9,66.1,66.3,66.5,66.7,66.9,67.1,67.3,67.5,67.7,67.9,68.1,68.3,68.5,68.7,68.9,69.1,69.3,69.5]}},
  "color":{"field":"grp","type":"nominal","scale":{"domain":["+2/8","+1/8","pivot","7/8","6/8","5/8","3/8","2/8","1/8","-1/8","-2/8"],"range":["#C71585","#FF00FF","#1E90FF","#FF8C00","#FF4500","#556B2F","#556B2F","#FF4500","#FF8C00","#FF00FF","#C71585"]},"legend":null}}},
{"data":{"name":"levels"},"mark":{"type":"text","align":"center","baseline":"middle","fontSize":18,"font":"Liberation Sans","color":"white"},
 "encoding":{
  "x":{"datum":474.125,"type":"quantitative","scale":{"type":"linear","domain":[-0.1875,470.0625],"nice":false,"zero":false},
   "axis":{"orient":"bottom","title":null,
    "values":[0,8,16,24,32,40,48,56,64,72,80,88,96,104,112,120,128,136,144,152,160,168,176,184,192,200,208,216,224,232,240,248,256,264,272,280,288,296,304,312,320,328,336,344,352,360,368,376,384,392,400,408,416,424,432,440,448,456,464],
    "tickColor":{"condition":{"test":"datum.value % 16 == 0 && datum.value <= 320","value":"black"},"value":"rgba(0,0,0,0)"},
    "labelExpr":"datum.value % 16 == 0 && datum.value <= 320 ? ['21 Aug 2025','22 Aug 11:30','25 Aug 06:30','25 Aug 22:30','26 Aug 17:30','27 Aug 12:30','28 Aug 07:30','28 Aug 23:30','29 Aug 18:30','1 Sep 13:30','2 Sep 12:00','3 Sep 07:00','3 Sep 23:00','4 Sep 18:00','5 Sep 13:00','8 Sep 08:00','9 Sep 03:00','9 Sep 19:00','10 Sep 14:00','11 Sep 09:00','12 Sep 04:00'][datum.value / 16] : ''"}},
  "y":{"field":"p","type":"quantitative","scale":{"type":"linear","domain":[64.799,69.606],"nice":false,"zero":false},
   "axis":{"orient":"right","title":null,"format":".2f",
    "values":[64.9,65.1,65.3,65.5,65.7,65.9,66.1,66.3,66.5,66.7,66.9,67.1,67.3,67.5,67.7,67.9,68.1,68.3,68.5,68.7,68.9,69.1,69.3,69.5]}},
  "text":{"field":"p","type":"quantitative","format":".2f"}}},
{"data":{"values":[{}]},"mark":{"type":"text","align":"left","baseline":"middle","fontSize":18,"font":"Liberation Sans","color":"black"},
 "encoding":{
  "x":{"datum":0.56,"type":"quantitative","scale":{"type":"linear","domain":[-0.1875,470.0625],"nice":false,"zero":false},
   "axis":{"orient":"bottom","title":null,
    "values":[0,8,16,24,32,40,48,56,64,72,80,88,96,104,112,120,128,136,144,152,160,168,176,184,192,200,208,216,224,232,240,248,256,264,272,280,288,296,304,312,320,328,336,344,352,360,368,376,384,392,400,408,416,424,432,440,448,456,464],
    "tickColor":{"condition":{"test":"datum.value % 16 == 0 && datum.value <= 320","value":"black"},"value":"rgba(0,0,0,0)"},
    "labelExpr":"datum.value % 16 == 0 && datum.value <= 320 ? ['21 Aug 2025','22 Aug 11:30','25 Aug 06:30','25 Aug 22:30','26 Aug 17:30','27 Aug 12:30','28 Aug 07:30','28 Aug 23:30','29 Aug 18:30','1 Sep 13:30','2 Sep 12:00','3 Sep 07:00','3 Sep 23:00','4 Sep 18:00','5 Sep 13:00','8 Sep 08:00','9 Sep 03:00','9 Sep 19:00','10 Sep 14:00','11 Sep 09:00','12 Sep 04:00'][datum.value / 16] : ''"}},
  "y":{"datum":69.569,"type":"quantitative","scale":{"type":"linear","domain":[64.799,69.606],"nice":false,"zero":false},
   "axis":{"orient":"right","title":null,"format":".2f",
    "values":[64.9,65.1,65.3,65.5,65.7,65.9,66.1,66.3,66.5,66.7,66.9,67.1,67.3,67.5,67.7,67.9,68.1,68.3,68.5,68.7,68.9,69.1,69.3,69.5]}},
  "text":{"value":"▼ BRN,M30\u00a0\u00a065.66 65.69 65.64 65.66"}}}
]
}
